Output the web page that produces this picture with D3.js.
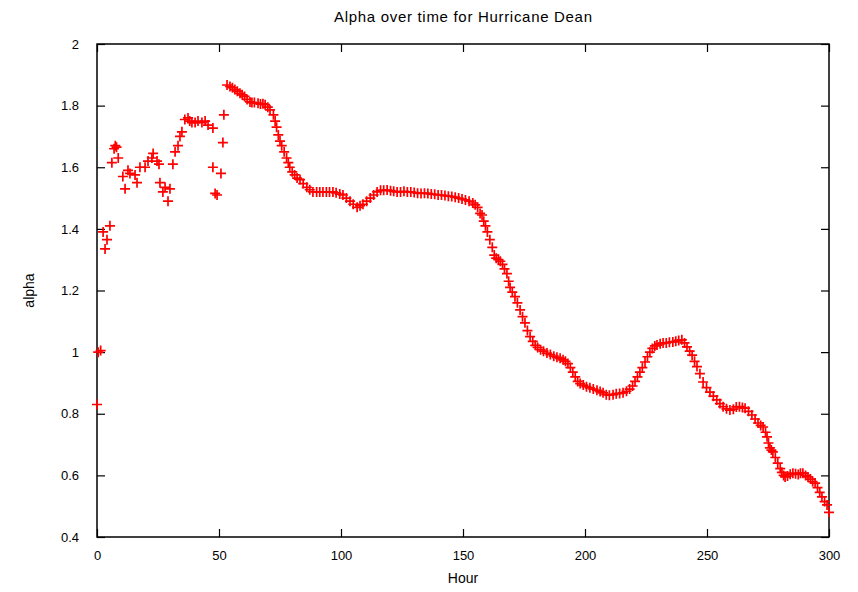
<!DOCTYPE html>
<html lang="en">
  <head>
    <title>Alpha over time for Hurricane Dean</title>
    <script src="https://d3js.org/d3.v7.min.js"></script>
    <style>
      body { margin: 0; background: #fff; }
      text { font-family: "Liberation Sans", Arial, sans-serif; fill: #000; }
      .tick-label { font-size: 13px; }
      .title { font-size: 15px; }
      .axisText { font-size: 14px; }
    </style>
  </head>
  <body>
    <div id="content"></div>
    <script>
      // hour of each reading
      const hours = [
        0, 0.5, 1.5, 2.5, 3.3, 4.1, 5.3, 6.1, 7.0, 7.5, 8.0, 8.7, 10.6, 11.5,
        12.7, 13.5, 15.6, 16.4, 17.6, 19.7, 20.9, 22.5, 23.0, 24.6, 25.4, 25.8,
        27.0, 27.9, 29.1, 29.9, 31.1, 32.0, 33.2, 34.0, 34.8, 36.0, 37.3, 38.0,
        38.9, 40.2, 41.4, 43.0, 44.3, 45.5, 47.5, 47.5, 48.4, 49.2, 50.8, 51.6,
        52.0, 53.3, 54.5, 55.5, 56.5, 57.5, 58.6, 59.5, 60.5, 61.5, 62.7, 63.5,
        64.5, 66.0, 67.0, 68.0, 68.9, 70.0, 70.9, 72.3, 73.0, 73.6, 74.3, 75.0,
        75.7, 76.7, 77.7, 78.4, 79.0, 80.0, 81.0, 82.0, 83.2, 84.5, 86.0, 87.2,
        88.5, 90.0, 91.3, 92.6, 94.0, 95.3, 96.7, 98.0, 99.5, 100.8, 102.2,
        103.7, 105.0, 106.6, 107.8, 109.0, 110.5, 112.0, 113.4, 114.8, 116.2,
        117.5, 118.9, 120.3, 121.6, 123.0, 124.4, 125.8, 127.2, 128.6, 130.0,
        131.4, 132.8, 134.2, 135.6, 137.0, 138.4, 139.8, 141.2, 142.6, 144.0,
        145.4, 146.8, 148.2, 149.6, 151.0, 152.5, 154.0, 155.0, 156.0, 157.0,
        157.8, 158.5, 159.2, 160.0, 161.0, 162.0, 162.8, 163.6, 164.5, 165.3,
        166.2, 167.0, 168.0, 168.7, 169.3, 170.2, 171.3, 172.3, 173.4, 174.4,
        175.4, 176.4, 177.5, 178.6, 179.6, 180.6, 181.8, 183.0, 184.4, 185.8,
        187.2, 188.5, 189.8, 191.0, 192.0, 193.0, 194.0, 195.0, 196.0, 197.0,
        198.0, 199.3, 200.6, 202.0, 203.4, 204.9, 206.2, 207.4, 208.7, 210.0,
        211.5, 212.8, 214.2, 215.6, 217.0, 218.3, 219.5, 220.5, 221.5, 222.5,
        223.5, 224.6, 225.6, 226.6, 227.6, 228.6, 229.5, 230.8, 232.0, 233.3,
        234.6, 236.0, 237.2, 238.4, 239.7, 240.8, 241.8, 242.9, 243.9, 244.9,
        245.9, 247.1, 248.4, 249.8, 251.2, 252.6, 254.0, 255.3, 256.6, 258.0,
        259.4, 260.8, 262.0, 263.3, 264.5, 265.6, 267.0, 268.4, 269.7, 270.9,
        272.0, 273.0, 274.0, 274.6, 275.2, 275.8, 276.4, 277.0, 278.0, 279.0,
        280.0, 280.7, 281.4, 282.0, 283.0, 284.1, 285.2, 286.3, 287.4, 288.3,
        289.3, 290.4, 291.4, 292.4, 293.3, 294.3, 295.3, 296.2, 297.1, 298.2,
        299.2, 300.0
      ];

      // alpha read at each hour
      const alpha = [
        0.83, 1.0, 1.005, 1.39, 1.335, 1.365, 1.41, 1.615, 1.66, 1.67, 1.665,
        1.63, 1.57, 1.53, 1.59, 1.58, 1.575, 1.55, 1.6, 1.6, 1.62, 1.63, 1.645,
        1.62, 1.61, 1.55, 1.52, 1.535, 1.49, 1.53, 1.61, 1.65, 1.67, 1.7, 1.715,
        1.755, 1.76, 1.75, 1.745, 1.745, 1.75, 1.745, 1.75, 1.737, 1.727, 1.6,
        1.515, 1.51, 1.58, 1.68, 1.77, 1.867, 1.862, 1.858, 1.852, 1.847, 1.84,
        1.835, 1.83, 1.82, 1.812, 1.81, 1.81, 1.808, 1.805, 1.806, 1.803, 1.795,
        1.786, 1.77, 1.75, 1.73, 1.705, 1.685, 1.67, 1.65, 1.63, 1.615, 1.6,
        1.585, 1.575, 1.565, 1.56, 1.547, 1.535, 1.527, 1.52, 1.52, 1.52, 1.52,
        1.52, 1.52, 1.52, 1.517, 1.513, 1.51, 1.5, 1.49, 1.48, 1.47, 1.475,
        1.48, 1.49, 1.5, 1.51, 1.52, 1.525, 1.525, 1.526, 1.524, 1.522, 1.52,
        1.52, 1.522, 1.52, 1.52, 1.518, 1.516, 1.515, 1.516, 1.515, 1.513,
        1.512, 1.51, 1.51, 1.508, 1.506, 1.505, 1.503, 1.5, 1.497, 1.494, 1.49,
        1.484, 1.478, 1.47, 1.45, 1.445, 1.425, 1.41, 1.39, 1.365, 1.34, 1.315,
        1.305, 1.3, 1.295, 1.285, 1.27, 1.255, 1.23, 1.21, 1.195, 1.18, 1.16,
        1.137, 1.115, 1.095, 1.07, 1.05, 1.035, 1.022, 1.015, 1.008, 1.003,
        0.997, 0.992, 0.987, 0.983, 0.98, 0.975, 0.97, 0.963, 0.95, 0.935, 0.92,
        0.905, 0.898, 0.893, 0.888, 0.884, 0.88, 0.876, 0.872, 0.868, 0.862,
        0.86, 0.862, 0.865, 0.866, 0.868, 0.873, 0.88, 0.89, 0.905, 0.92, 0.935,
        0.95, 0.968, 0.985, 1.0, 1.012, 1.02, 1.023, 1.027, 1.03, 1.03, 1.032,
        1.033, 1.035, 1.038, 1.04, 1.03, 1.017, 1.003, 0.99, 0.97, 0.953, 0.93,
        0.903, 0.885, 0.87, 0.857, 0.845, 0.833, 0.823, 0.816, 0.812, 0.815,
        0.822, 0.823, 0.82, 0.818, 0.808, 0.796, 0.783, 0.77, 0.762, 0.757,
        0.74, 0.725, 0.705, 0.689, 0.682, 0.676, 0.658, 0.64, 0.622, 0.61, 0.6,
        0.595, 0.598, 0.604, 0.607, 0.605, 0.603, 0.607, 0.607, 0.6, 0.595,
        0.588, 0.58, 0.575, 0.56, 0.545, 0.53, 0.515, 0.504, 0.48
      ];

      const xTicks = [0, 50, 100, 150, 200, 250, 300];
      const yTicks = [0.4, 0.6, 0.8, 1, 1.2, 1.4, 1.6, 1.8, 2];

      const chart = (selector) => {
        const width = 858;
        const height = 592;
        const marginTop = 44;
        const marginRight = 29;
        const marginBottom = 55;
        const marginLeft = 97;
        const tickLen = 8;

        const x = d3
          .scaleLinear()
          .domain([0, 300])
          .range([marginLeft, width - marginRight]);

        const y = d3
          .scaleLinear()
          .domain([0.4, 2])
          .range([height - marginBottom, marginTop]);

        const svg = d3
          .select(selector)
          .append("svg")
          .attr("width", width)
          .attr("height", height);

        // bottom and top axes, ticks pointing inward
        svg
          .append("g")
          .attr("transform", `translate(0,${height - marginBottom})`)
          .call(d3.axisBottom(x).tickValues(xTicks).tickSize(-tickLen).tickPadding(14))
          .call((g) => g.select(".domain").remove());

        svg
          .append("g")
          .attr("transform", `translate(0,${marginTop})`)
          .call(d3.axisTop(x).tickValues(xTicks).tickSize(-tickLen).tickFormat(""))
          .call((g) => g.select(".domain").remove());

        svg
          .append("g")
          .attr("transform", `translate(${marginLeft},0)`)
          .call(d3.axisLeft(y).tickValues(yTicks).tickSize(-tickLen).tickPadding(18).tickFormat(d3.format("~g")))
          .call((g) => g.select(".domain").remove());

        svg
          .append("g")
          .attr("transform", `translate(${width - marginRight},0)`)
          .call(d3.axisRight(y).tickValues(yTicks).tickSize(-tickLen).tickFormat(""))
          .call((g) => g.select(".domain").remove());

        svg.selectAll(".tick line").attr("stroke", "#000").attr("stroke-width", 1.2);
        svg
          .selectAll(".tick text")
          .attr("class", "tick-label")
          .attr("font-family", null)
          .attr("font-size", null)
          .attr("fill", "#000");

        // frame
        svg
          .append("rect")
          .attr("x", marginLeft)
          .attr("y", marginTop)
          .attr("width", width - marginLeft - marginRight)
          .attr("height", height - marginTop - marginBottom)
          .attr("fill", "none")
          .attr("stroke", "#000")
          .attr("stroke-width", 1.5);

        svg
          .append("text")
          .attr("class", "title")
          .attr("text-anchor", "middle")
          .attr("x", (marginLeft + width - marginRight) / 2)
          .attr("y", 22)
          .attr("textLength", 258)
          .text("Alpha over time for Hurricane Dean");

        svg
          .append("text")
          .attr("class", "axisText")
          .attr("text-anchor", "middle")
          .attr("x", (marginLeft + width - marginRight) / 2)
          .attr("y", 583)
          .text("Hour");

        svg
          .append("text")
          .attr("class", "axisText")
          .attr("text-anchor", "middle")
          .attr("transform", `translate(34,${(marginTop + height - marginBottom) / 2}) rotate(-90)`)
          .text("alpha");

        // plus markers
        const s = 5;
        svg
          .append("g")
          .selectAll("path")
          .data(hours.map((h, i) => [h, alpha[i]]))
          .join("path")
          .attr("d", (d) => {
            const cx = x(d[0]);
            const cy = y(d[1]);
            return `M${cx - s},${cy}H${cx + s}M${cx},${cy - s}V${cy + s}`;
          })
          .attr("stroke", "#ff0000")
          .attr("stroke-width", 1.7)
          .attr("fill", "none");
      };

      chart("#content");
    </script>
  </body>
</html>
